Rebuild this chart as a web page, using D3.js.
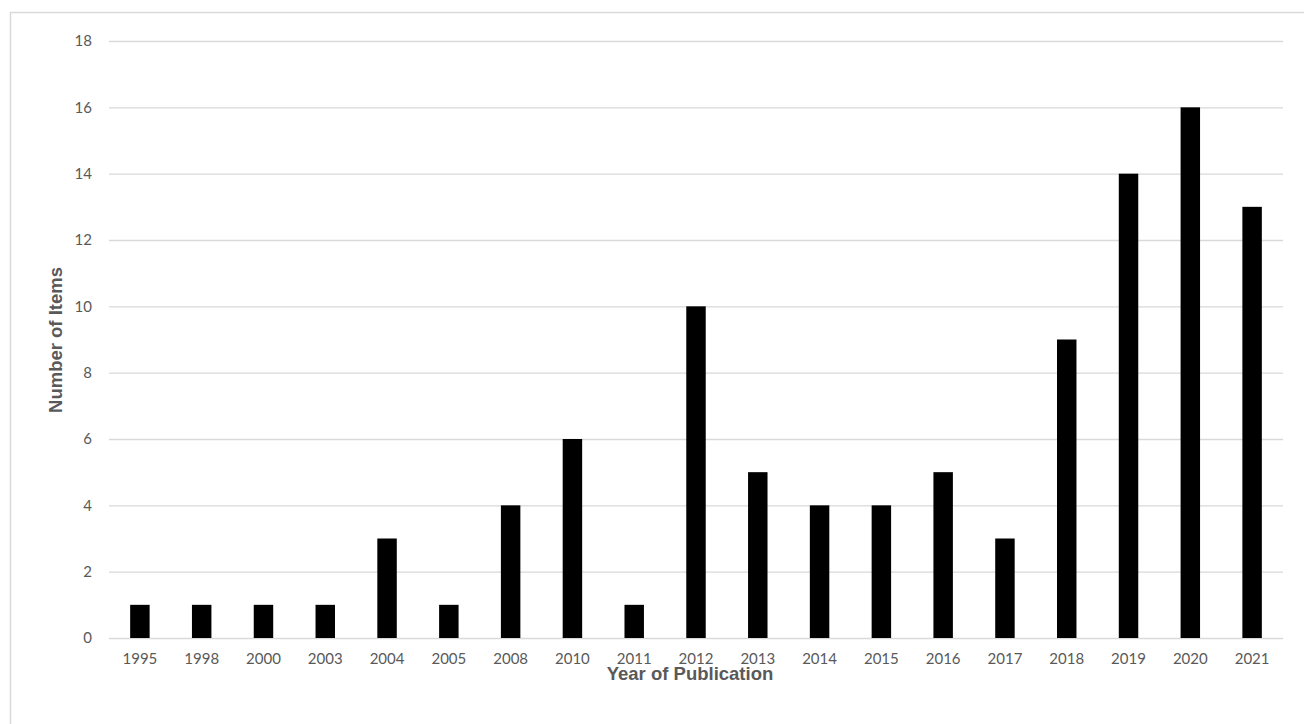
<!DOCTYPE html>
<html><head><meta charset="utf-8">
<script src="https://cdn.jsdelivr.net/npm/d3@7"></script>
<style>body{margin:0;background:#fff}svg{display:block}</style>
</head><body>
<svg id="c" width="1304" height="724"></svg>
<script>
const years = ["1995","1998","2000","2003","2004","2005","2008","2010","2011","2012","2013","2014","2015","2016","2017","2018","2019","2020","2021"];
const counts = [1,1,1,1,3,1,4,6,1,10,5,4,4,5,3,9,14,16,13];
const yTicks = [0,2,4,6,8,10,12,14,16,18];

const svg = d3.select("#c");
svg.append("rect").attr("x",10.5).attr("y",12.5).attr("width",1310).attr("height",730)
  .attr("fill","#fff").attr("stroke","#d9d9d9").attr("stroke-width",1.5);

const m = {l:109, r:1283, t:41, b:638};
const x = d3.scaleBand().domain(years).range([m.l,m.r]).paddingInner(0.685).paddingOuter(0.3425);
const y = d3.scaleLinear().domain([0,18]).range([m.b,m.t]);
const tickFont = "Lato, 'Open Sans', sans-serif";

const gy = svg.append("g").attr("transform",`translate(${m.l},0)`)
  .call(d3.axisLeft(y).tickValues(yTicks).tickSize(-(m.r-m.l)).tickPadding(17));
gy.select(".domain").remove();
gy.selectAll(".tick line").attr("stroke","#d9d9d9").attr("stroke-width",1.3);
gy.selectAll(".tick text").attr("fill","#595959").style("font-family",tickFont).style("font-size","15px");

svg.append("g").selectAll("rect").data(years).join("rect")
  .attr("x",d=>x(d)).attr("width",x.bandwidth())
  .attr("y",(d,i)=>y(counts[i])).attr("height",(d,i)=>y(0)-y(counts[i]))
  .attr("fill","#000");

const gx = svg.append("g").attr("transform",`translate(0,${m.b})`)
  .call(d3.axisBottom(x).tickSize(0).tickPadding(15.5));
gx.select(".domain").remove();
gx.selectAll(".tick text").attr("fill","#595959").style("font-family",tickFont).style("font-size","15px");

svg.append("text").attr("x",690).attr("y",680).attr("text-anchor","middle")
  .attr("fill","#595959").style("font-family","'Liberation Sans', Arial, sans-serif")
  .style("font-weight","bold").style("font-size","18.5px").text("Year of Publication");
svg.append("text").attr("transform","translate(62,340) rotate(-90)").attr("text-anchor","middle")
  .attr("fill","#595959").style("font-family","'Liberation Sans', Arial, sans-serif")
  .style("font-weight","bold").style("font-size","18.5px").text("Number of Items");
</script>
</body></html>
